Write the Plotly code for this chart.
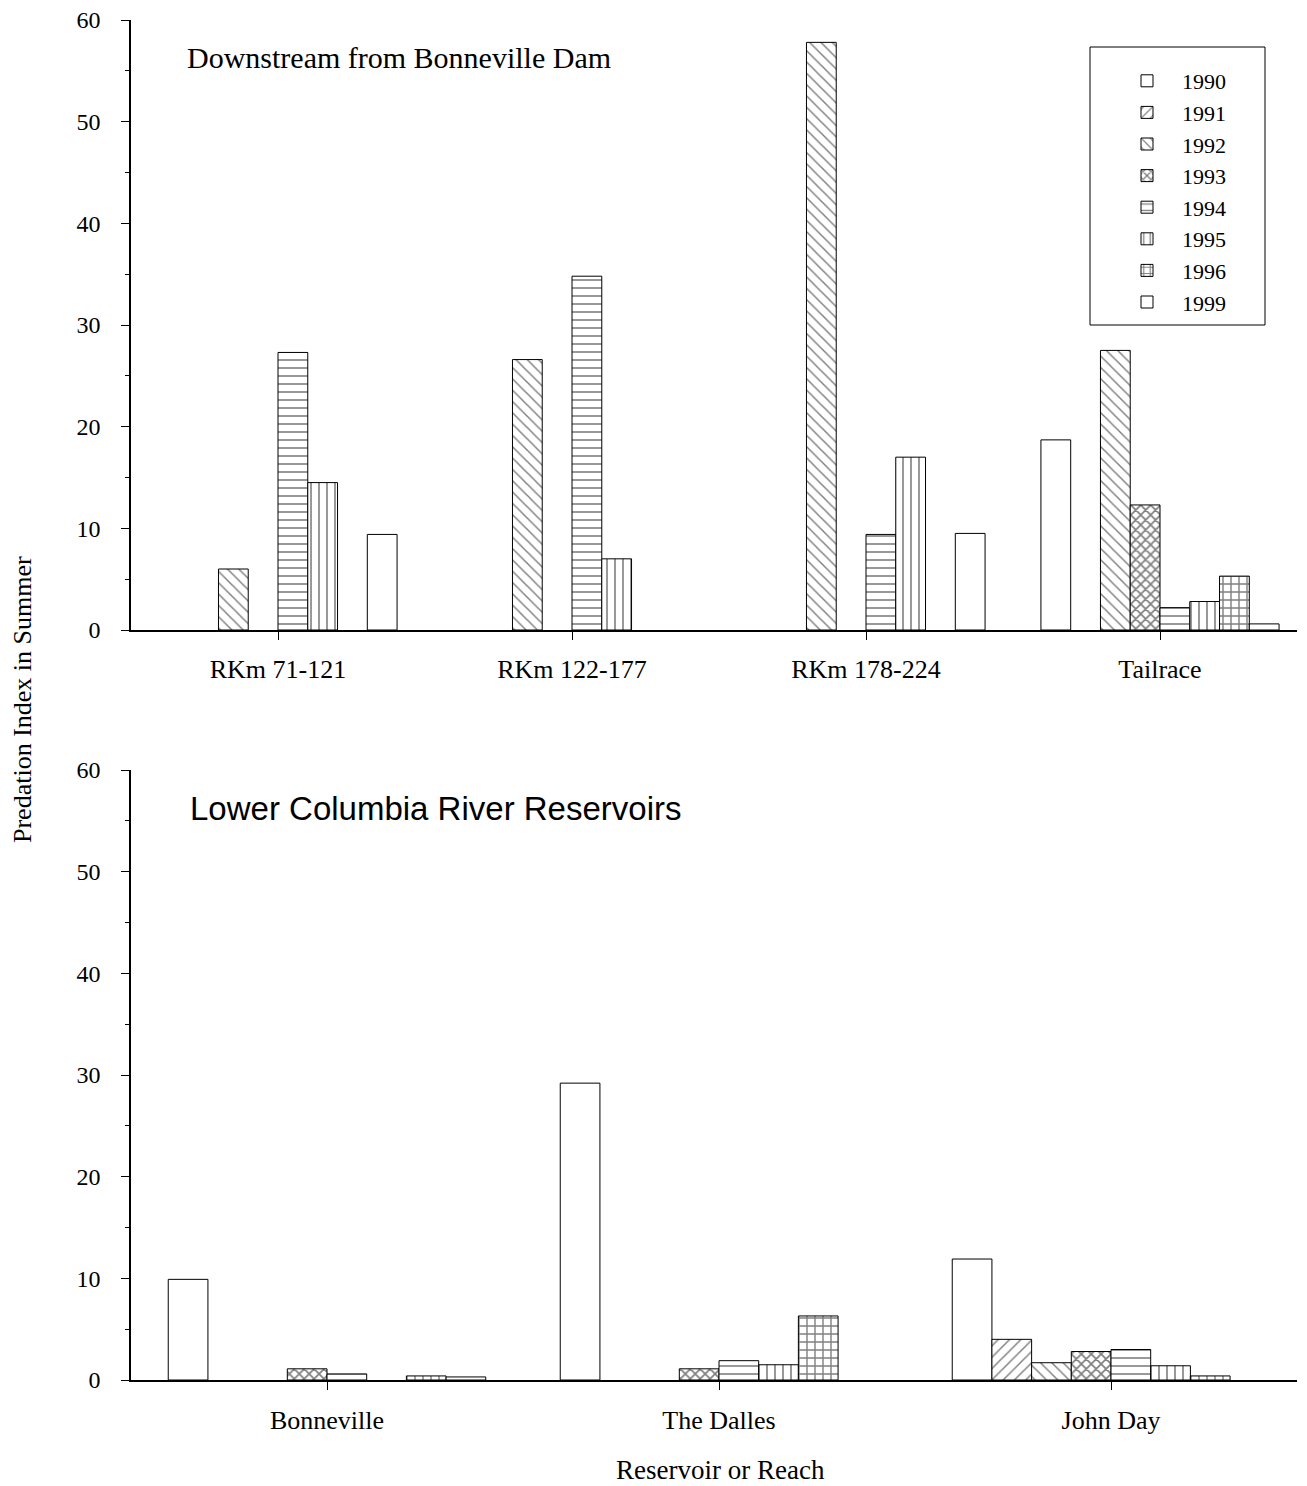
import plotly.graph_objects as go

years = ["1990", "1991", "1992", "1993", "1994", "1995", "1996", "1999"]
patterns = ["", "/", "\\", "x", "-", "|", "+", ""]
pattern_sizes = [8, 8, 8, 7, 8, 8, 8, 8]
pattern_solidity = [0.2, 0.18, 0.18, 0.42, 0.2, 0.2, 0.32, 0.2]

top_categories = ["RKm 71-121", "RKm 122-177", "RKm 178-224", "Tailrace"]
top_1990 = [None, None, None, 18.7]
top_1991 = [None, None, None, None]
top_1992 = [6.0, 26.6, 57.8, 27.5]
top_1993 = [None, None, None, 12.3]
top_1994 = [27.3, 34.8, 9.4, 2.2]
top_1995 = [14.5, 7.0, 17.0, 2.8]
top_1996 = [None, None, None, 5.3]
top_1999 = [9.4, None, 9.5, 0.6]

bottom_categories = ["Bonneville", "The Dalles", "John Day"]
bot_1990 = [9.9, 29.2, 11.9]
bot_1991 = [None, None, 4.0]
bot_1992 = [None, None, 1.7]
bot_1993 = [1.1, 1.1, 2.8]
bot_1994 = [0.6, 1.9, 3.0]
bot_1995 = [None, 1.5, 1.4]
bot_1996 = [0.4, 6.3, 0.4]
bot_1999 = [0.3, None, None]

top_values = [top_1990, top_1991, top_1992, top_1993, top_1994, top_1995, top_1996, top_1999]
bot_values = [bot_1990, bot_1991, bot_1992, bot_1993, bot_1994, bot_1995, bot_1996, bot_1999]

# page body has an 8px default margin; size the figure to fill the rest of the window
OFF = 8
W, H = 1307 - OFF, 1486 - OFF
SERIF = "Liberation Serif, Times New Roman, serif"
SANS = "Liberation Sans, Arial, sans-serif"

def px(x):
    return (x - OFF) / W

def py(y):
    return 1 - (y - OFF) / H

fig = go.Figure()

for i, yr in enumerate(years):
    marker = dict(
        color="white",
        line=dict(color="black", width=1),
        pattern=dict(shape=patterns[i], fgcolor="black", bgcolor="white",
                     size=pattern_sizes[i], solidity=pattern_solidity[i]),
    )
    fig.add_trace(go.Bar(x=top_categories, y=top_values[i], name=yr, marker=marker,
                         legendgroup=yr, showlegend=True, xaxis="x", yaxis="y"))
    fig.add_trace(go.Bar(x=bottom_categories, y=bot_values[i], name=yr, marker=marker,
                         legendgroup=yr, showlegend=False, xaxis="x2", yaxis="y2"))

axis_common = dict(showline=True, linecolor="black", linewidth=1.5, ticks="outside",
                   ticklen=8, tickcolor="black", tickwidth=1, showgrid=False, zeroline=False,
                   automargin=False, ticklabeloverflow="allow")
xfont = dict(family=SERIF, size=26, color="black")
yfont = dict(family=SERIF, size=24, color="black")
yminor = dict(dtick=5, ticklen=4, ticks="outside", tickcolor="black")

x_dom = [px(131), px(1297)]
fig.update_layout(
    width=W, height=H,
    margin=dict(l=0, r=0, t=0, b=0, pad=0, autoexpand=False),
    paper_bgcolor="white", plot_bgcolor="white",
    barmode="group", bargap=0.19, bargroupgap=0,
    xaxis=dict(domain=x_dom, anchor="y", range=[-0.5, 3.5 - 10 / 294],
               ticklabelstandoff=7, tickfont=xfont, **axis_common),
    yaxis=dict(domain=[py(630), py(20)], anchor="x", range=[0, 60], dtick=10,
               ticklabelstandoff=16, tickfont=yfont, minor=yminor, **axis_common),
    xaxis2=dict(domain=x_dom, anchor="y2", range=[-0.5, 2.5 - 10 / 392],
                ticklabelstandoff=8, tickfont=xfont, **axis_common),
    yaxis2=dict(domain=[py(1380), py(770)], anchor="x2", range=[0, 60], dtick=10,
                ticklabelstandoff=16, tickfont=yfont, minor=yminor, **axis_common),
    legend=dict(x=px(1112), y=py(60), xanchor="left", yanchor="top",
                bgcolor="rgba(0,0,0,0)", borderwidth=0,
                font=dict(family=SERIF, size=22, color="black"),
                itemwidth=60, tracegroupgap=0),
    shapes=[dict(type="rect", xref="paper", yref="paper",
                 x0=px(1090), x1=px(1265), y0=py(325), y1=py(47),
                 line=dict(color="black", width=1), fillcolor="rgba(0,0,0,0)")],
    annotations=[
        dict(text="Downstream from Bonneville Dam", xref="paper", yref="paper",
             x=px(185), y=py(57), xanchor="left", yanchor="middle", showarrow=False,
             font=dict(family=SERIF, size=30, color="black")),
        dict(text="Lower Columbia River Reservoirs", xref="paper", yref="paper",
             x=px(188), y=py(808), xanchor="left", yanchor="middle", showarrow=False,
             font=dict(family=SANS, size=33, color="black")),
        dict(text="Predation Index in Summer", xref="paper", yref="paper",
             x=px(22), y=py(700), xanchor="center", yanchor="middle", showarrow=False,
             textangle=-90, font=dict(family=SERIF, size=26, color="black")),
        dict(text="Reservoir or Reach", xref="paper", yref="paper",
             x=px(720), y=py(1470), xanchor="center", yanchor="middle", showarrow=False,
             font=dict(family=SERIF, size=27, color="black")),
    ],
)

fig.write_html("out.html")
